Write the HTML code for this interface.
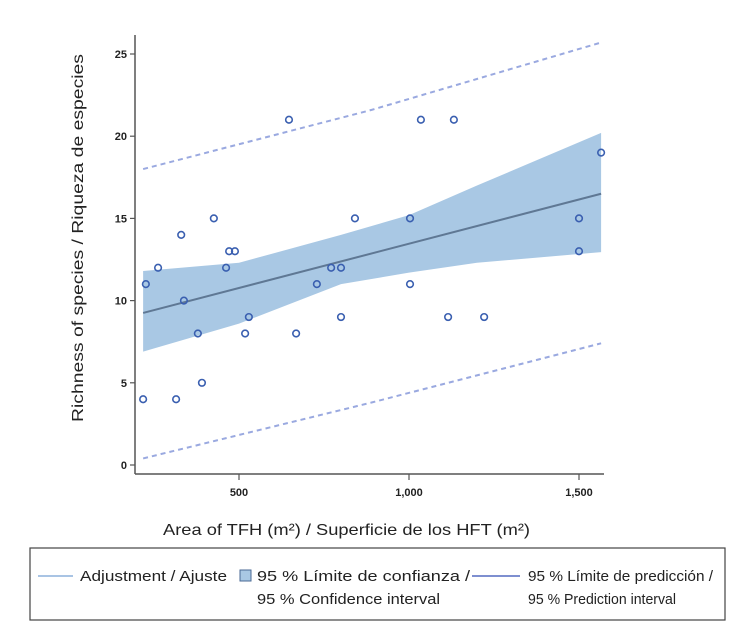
<!DOCTYPE html>
<html><head><meta charset="utf-8"><style>
body{margin:0;background:#fff;width:737px;height:628px;overflow:hidden;font-family:"Liberation Sans",sans-serif}
</style></head><body>
<svg id="chart" width="737" height="628" xmlns="http://www.w3.org/2000/svg">
<g id="plot"></g>
<text transform="translate(83,238) rotate(-90)" text-anchor="middle" font-size="16" fill="#222" textLength="368" lengthAdjust="spacingAndGlyphs">Richness of species / Riqueza de especies</text>
<text x="163" y="535" font-size="16" fill="#222" textLength="367" lengthAdjust="spacingAndGlyphs">Area of TFH (m²) / Superficie de los HFT (m²)</text>
<g>
<rect x="30" y="548" width="695" height="72" fill="none" stroke="#444" stroke-width="1.2"/>
<line x1="38" y1="576" x2="73" y2="576" stroke="#a9c4e4" stroke-width="2"/>
<text x="80" y="581" font-size="15" fill="#222" textLength="147" lengthAdjust="spacingAndGlyphs">Adjustment / Ajuste</text>
<rect x="240" y="570" width="11" height="11" fill="#a9c8e4" stroke="#4a6a95"/>
<text x="257" y="581" font-size="15" fill="#222" textLength="213" lengthAdjust="spacingAndGlyphs">95 % Límite de confianza /</text>
<text x="257" y="604" font-size="15" fill="#222" textLength="183" lengthAdjust="spacingAndGlyphs">95 % Confidence interval</text>
<line x1="472" y1="576" x2="520" y2="576" stroke="#7e8fd0" stroke-width="2"/>
<text x="528" y="581" font-size="15" fill="#222" textLength="185" lengthAdjust="spacingAndGlyphs">95 % Límite de predicción /</text>
<text x="528" y="604" font-size="15" fill="#222" textLength="148" lengthAdjust="spacingAndGlyphs">95 % Prediction interval</text>
</g>
</svg>
<script>
const ptX=[218,226,262,330,338,315,379,391,426,462,471,488,518,529,647,668,729,771,800,800,841,1003,1003,1035,1115,1132,1221,1500,1500,1565];
const ptY=[4,11,12,14,10,4,8,5,15,12,13,13,8,9,21,8,11,12,12,9,15,15,11,21,9,21,9,15,13,19];
const fitX=[218,1565];
const fitY=[9.25,16.5];
const ciX=[218,500,800,1000,1200,1565];
const ciUpper=[11.8,12.3,14.0,15.2,17.0,20.2];
const ciLower=[6.9,8.6,11.0,11.7,12.3,12.95];
const piX=[218,890,1565];
const piUpper=[18.0,21.6,25.7];
const piLower=[0.4,3.8,7.4];
const yTicks=[0,5,10,15,20,25];
const xTicks=[500,1000,1500];
const xTickLabels=["500","1,000","1,500"];
const NS="http://www.w3.org/2000/svg";
const sx=v=>69+v*0.34;
const sy=v=>465-v*16.44;
const g=document.getElementById('plot');
function mk(t,a){const e=document.createElementNS(NS,t);for(const k in a)e.setAttribute(k,a[k]);g.appendChild(e);return e;}
let d='M'+ciX.map((x,i)=>sx(x)+','+sy(ciUpper[i])).join('L');
for(let i=ciX.length-1;i>=0;i--)d+='L'+sx(ciX[i])+','+sy(ciLower[i]);
let band=mk('path',{d:d+'Z',fill:'#a9c8e4'});


let fit=mk('polyline',{points:fitX.map((x,i)=>sx(x)+','+sy(fitY[i])).join(' '),fill:'none',stroke:'#5f7894','stroke-width':2});


[piUpper,piLower].forEach((arr,j)=>{
  const l=mk('polyline',{points:piX.map((x,i)=>sx(x)+','+sy(arr[i])).join(' '),fill:'none',stroke:'#9aa9e0','stroke-width':2,'stroke-dasharray':'5,4'});
  
  
});
ptX.forEach((x,i)=>{
  const c=mk('circle',{cx:sx(x),cy:sy(ptY[i]),r:3.3,fill:'none',stroke:'#3a5fb0','stroke-width':1.6});
  
  
});
let ya=mk('line',{x1:135,y1:35,x2:135,y2:474,stroke:'#555','stroke-width':1.5});


let xa=mk('line',{x1:135,y1:474,x2:604,y2:474,stroke:'#555','stroke-width':1.5});


yTicks.forEach(v=>{
  mk('line',{x1:130,y1:sy(v),x2:135,y2:sy(v),stroke:'#555','stroke-width':1.2});
  const t=mk('text',{x:127,y:sy(v)+4,'text-anchor':'end','font-size':11,'font-weight':'bold',fill:'#222'});
  t.textContent=v;
  
  
});
xTicks.forEach((v,i)=>{
  mk('line',{x1:sx(v),y1:474,x2:sx(v),y2:480,stroke:'#555','stroke-width':1.2});
  const t=mk('text',{x:sx(v),y:496,'text-anchor':'middle','font-size':11,'font-weight':'bold',fill:'#222'});
  t.textContent=xTickLabels[i];
  
  
});
</script>
</body></html>
